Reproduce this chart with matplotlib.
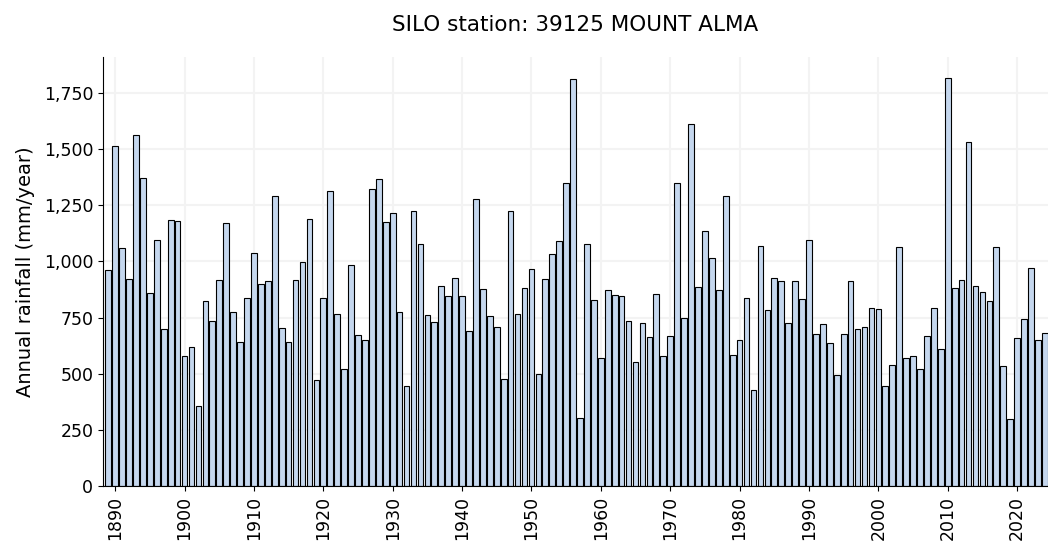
import numpy as np
import matplotlib.pyplot as plt
from matplotlib.ticker import FuncFormatter

years = np.arange(1889, 2025)
rainfall = [
    961, 1516, 1060, 921, 1562, 1373, 860, 1095, 698, 1183, 1180,      # 1889-1899
    580, 620, 354, 823, 733, 917, 1170, 777, 643, 837,                 # 1900-1909
    1036, 900, 912, 1294, 703, 639, 918, 997, 1189, 470,               # 1910-1919
    837, 1312, 767, 519, 985, 672, 652, 1323, 1369, 1174,              # 1920-1929
    1214, 777, 444, 1223, 1076, 762, 731, 890, 847, 926,               # 1930-1939
    847, 688, 1278, 877, 756, 707, 476, 1224, 767, 881,                # 1940-1949
    966, 499, 921, 1033, 1091, 1352, 1813, 302, 1079, 828,             # 1950-1959
    569, 875, 850, 846, 733, 554, 727, 663, 856, 580,                  # 1960-1969
    667, 1348, 747, 1611, 886, 1134, 1015, 875, 1293, 583,             # 1970-1979
    648, 837, 429, 1070, 786, 926, 911, 727, 911, 832,                 # 1980-1989
    1095, 678, 722, 637, 495, 678, 911, 697, 707, 792,                 # 1990-1999
    788, 444, 539, 1064, 569, 580, 519, 669, 792, 608,                 # 2000-2009
    1820, 881, 917, 1532, 890, 866, 822, 1064, 535, 296,               # 2010-2019
    658, 743, 970, 652, 682,                                           # 2020-2024
]
title = 'SILO station: 39125 MOUNT ALMA'

fig = plt.figure(figsize=(10.48, 5.49), dpi=100)
ax = fig.add_axes([0.0983, 0.115, 0.9017, 0.781])

ax.bar(years, rainfall, width=0.82, color='#c5d7ee', edgecolor='black',
       linewidth=0.8, zorder=2)

ax.set_xlim(1888.25, 2024.45)
ax.set_ylim(0, max(rainfall) * 1.05)
ax.set_xticks(np.arange(1890, 2021, 10))
ax.tick_params(axis='x', labelrotation=90, labelsize=12.5)
ax.tick_params(axis='y', labelsize=12.5)
ax.yaxis.set_major_formatter(FuncFormatter(lambda v, p: f'{int(v):,}'))
ax.set_ylabel('Annual rainfall (mm/year)', fontsize=14, labelpad=6)
ax.set_title(title, fontsize=15.5, pad=19)

ax.grid(True, color='#f3f3f3', linewidth=1.5, zorder=0)
ax.spines['top'].set_visible(False)
ax.spines['right'].set_visible(False)

fig.savefig('out.png', dpi=100)
